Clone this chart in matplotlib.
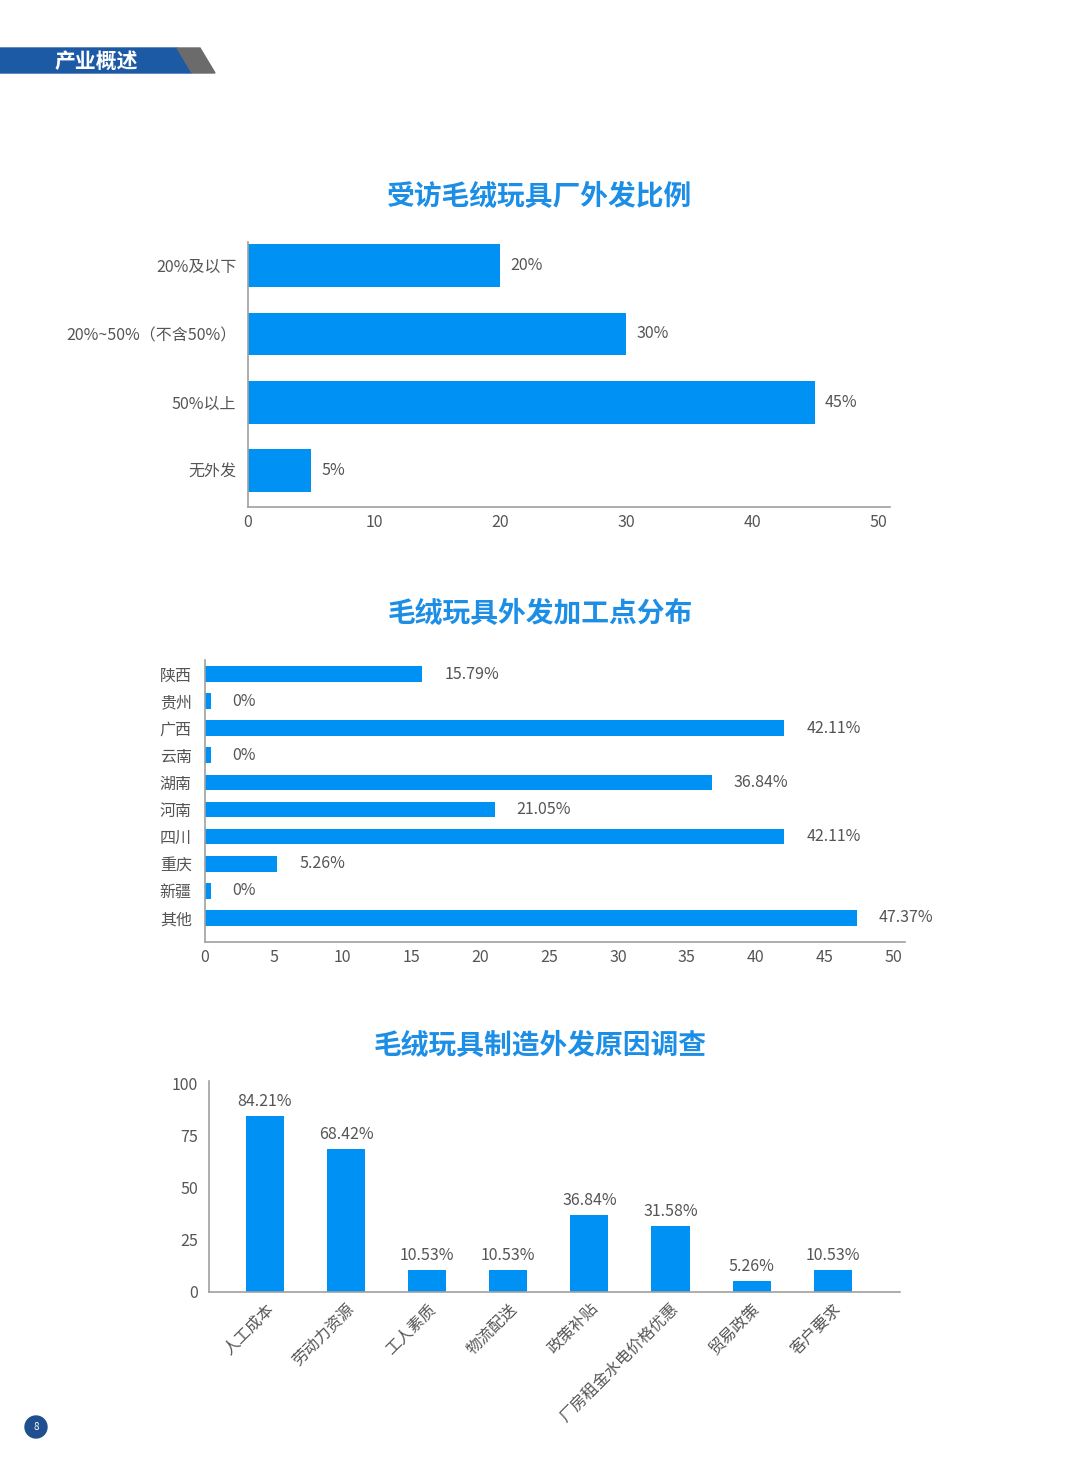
import numpy as np
import matplotlib.pyplot as plt
from matplotlib.patches import Polygon, Circle

plt.rcParams['font.family'] = ['Noto Sans CJK SC', 'DejaVu Sans']

# chart 1
c1_cats = ['20%及以下', '20%~50%（不含50%）', '50%以上', '无外发']
c1_vals = [20, 30, 45, 5]
c1_labels = ['20%', '30%', '45%', '5%']

# chart 2
c2_cats = ['陕西', '贵州', '广西', '云南', '湖南', '河南', '四川', '重庆', '新疆', '其他']
c2_vals = [15.79, 0, 42.11, 0, 36.84, 21.05, 42.11, 5.26, 0, 47.37]

# chart 3
c3_cats = ['人工成本', '劳动力资源', '工人素质', '物流配送', '政策补贴',
           '厂房租金水电价格优惠', '贸易政策', '客户要求']
c3_vals = [84.21, 68.42, 10.53, 10.53, 36.84, 31.58, 5.26, 10.53]

BAR = '#0091F5'
TITLE = '#1C8EE6'
TXT = '#555555'
AX = '#A0A0A0'

W, H = 1080, 1466
fig = plt.figure(figsize=(W / 100, H / 100), dpi=100)


def box(l, t, r, b):
    return [l / W, 1 - b / H, (r - l) / W, (b - t) / H]


def style(ax):
    for s in ['top', 'right']:
        ax.spines[s].set_visible(False)
    for s in ['left', 'bottom']:
        ax.spines[s].set_color(AX)
        ax.spines[s].set_linewidth(1.2)
    ax.tick_params(length=0, colors=TXT, labelsize=11.5)


# header band and page number
bg = fig.add_axes([0, 0, 1, 1], zorder=-1)
bg.set_xlim(0, W)
bg.set_ylim(H, 0)
bg.axis('off')
bg.add_patch(Polygon([[0, 48], [177, 48], [192, 73], [0, 73]], color='#1D5AA5'))
bg.add_patch(Polygon([[177, 48], [200, 48], [215, 73], [192, 73]], color='#6B6B6B'))
bg.text(96, 61, '产业概述', color='white', fontsize=15, fontweight='bold',
        ha='center', va='center')
bg.add_patch(Circle((36, 1427), 11, color='#1F4F8F'))
bg.text(36, 1427, '8', color='white', fontsize=7, ha='center', va='center')

# chart 1
fig.text(0.5, 1 - 196 / H, '受访毛绒玩具厂外发比例', color=TITLE, fontsize=20,
         fontweight='bold', ha='center', va='center')
ax1 = fig.add_axes(box(248, 242, 890, 507))
y1 = np.arange(len(c1_cats))
ax1.barh(y1, c1_vals, height=0.63, color=BAR)
for y, v, lab in zip(y1, c1_vals, c1_labels):
    ax1.text(v + 0.8, y, lab, color=TXT, fontsize=11.5, va='center')
ax1.set_yticks(y1)
ax1.set_yticklabels(c1_cats)
ax1.set_ylim(3.54, -0.35)
ax1.set_xlim(0, 50.95)
ax1.set_xticks([0, 10, 20, 30, 40, 50])
style(ax1)
ax1.tick_params(axis='y', pad=8.5)
ax1.tick_params(axis='x', pad=5)

# chart 2
fig.text(0.5, 1 - 613 / H, '毛绒玩具外发加工点分布', color=TITLE, fontsize=20,
         fontweight='bold', ha='center', va='center')
ax2 = fig.add_axes(box(205, 660, 905, 942))
y2 = np.arange(len(c2_cats))
shown = [max(v, 0.4) for v in c2_vals]
ax2.barh(y2, shown, height=0.58, color=BAR)
for y, v, s in zip(y2, c2_vals, shown):
    ax2.text(s + 1.6, y, f'{v:g}%', color=TXT, fontsize=11.5, va='center')
ax2.set_yticks(y2)
ax2.set_yticklabels(c2_cats)
ax2.set_ylim(9.89, -0.52)
ax2.set_xlim(0, 50.87)
ax2.set_xticks(np.arange(0, 51, 5))
style(ax2)
ax2.tick_params(axis='y', pad=9.5)
ax2.tick_params(axis='x', pad=5)

# chart 3
fig.text(0.5, 1 - 1045 / H, '毛绒玩具制造外发原因调查', color=TITLE, fontsize=20,
         fontweight='bold', ha='center', va='center')
ax3 = fig.add_axes(box(209, 1081, 900, 1292))
x3 = np.arange(len(c3_cats))
ax3.bar(x3, c3_vals, width=0.47, color=BAR)
for x, v in zip(x3, c3_vals):
    ax3.text(x, v + 3, f'{v:.2f}%', color=TXT, fontsize=11.5, ha='center', va='bottom')
ax3.set_xticks(x3)
ax3.set_xticklabels(c3_cats, rotation=45, ha='right', rotation_mode='anchor')
ax3.set_xlim(-0.69, 7.83)
ax3.set_ylim(0, 101)
ax3.set_yticks([0, 25, 50, 75, 100])
style(ax3)
ax3.tick_params(axis='y', pad=8)
ax3.tick_params(axis='x', pad=6)

fig.savefig('out.png', dpi=100)
